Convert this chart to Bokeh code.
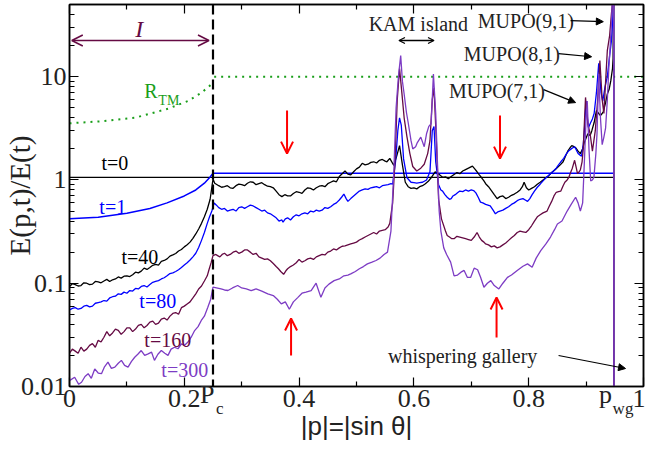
from bokeh.plotting import figure
from bokeh.models import (Range1d, FixedTicker, LinearAxis, LogAxis, Span, Label,
                          Arrow, OpenHead, NormalHead, CustomJSTickFormatter)
from bokeh.embed import file_html
from bokeh.resources import INLINE

# ---------------- data ----------------
t0_x = [0.0, 0.948]
t0_y = [1.06, 1.06]

t1_x = [0.0, 0.05, 0.10, 0.14, 0.17, 0.20, 0.22, 0.235, 0.245, 0.25, 0.948]
t1_y = [0.42, 0.435, 0.475, 0.53, 0.60, 0.70, 0.80, 0.93, 1.07, 1.16, 1.16]

# (p, E(p,t)/E(t)) pairs per time
t40_pts = [
    (0.000, 0.093), (0.005, 0.099), (0.010, 0.097), (0.015, 0.094), (0.020, 0.095),
    (0.025, 0.101), (0.030, 0.100), (0.035, 0.097), (0.040, 0.098), (0.045, 0.104),
    (0.050, 0.103), (0.055, 0.101), (0.060, 0.105), (0.065, 0.109), (0.070, 0.104),
    (0.075, 0.108), (0.080, 0.110), (0.085, 0.115), (0.090, 0.112), (0.095, 0.117),
    (0.100, 0.118), (0.105, 0.116), (0.110, 0.121), (0.115, 0.128), (0.120, 0.126),
    (0.125, 0.131), (0.130, 0.140), (0.135, 0.136), (0.140, 0.142), (0.145, 0.149),
    (0.150, 0.152), (0.155, 0.150), (0.160, 0.163), (0.165, 0.166), (0.170, 0.172),
    (0.175, 0.183), (0.180, 0.188), (0.185, 0.194), (0.190, 0.205), (0.195, 0.212),
    (0.200, 0.225), (0.205, 0.236), (0.210, 0.250), (0.215, 0.272), (0.220, 0.300),
    (0.225, 0.335), (0.230, 0.380), (0.235, 0.440), (0.240, 0.520), (0.245, 0.650),
    (0.250, 1.02), (0.253, 0.93), (0.260, 0.88), (0.265, 0.85), (0.270, 0.86),
    (0.275, 0.88), (0.280, 0.84), (0.285, 0.83), (0.290, 0.88), (0.295, 0.91),
    (0.300, 0.90), (0.305, 0.88), (0.310, 0.93), (0.315, 0.96), (0.320, 0.95),
    (0.325, 0.90), (0.330, 0.92), (0.335, 0.94), (0.340, 0.90), (0.345, 0.87),
    (0.350, 0.86), (0.355, 0.84), (0.360, 0.78), (0.365, 0.72), (0.370, 0.69),
    (0.375, 0.72), (0.380, 0.70), (0.385, 0.70), (0.390, 0.74), (0.395, 0.77),
    (0.400, 0.76), (0.405, 0.74), (0.410, 0.80), (0.415, 0.84), (0.420, 0.83),
    (0.425, 0.80), (0.430, 0.84), (0.435, 0.87), (0.440, 0.88), (0.445, 0.86),
    (0.450, 0.92), (0.455, 0.95), (0.460, 0.98), (0.465, 0.96), (0.470, 1.08),
    (0.475, 1.15), (0.480, 1.22), (0.485, 1.14), (0.490, 1.12), (0.495, 1.20),
    (0.500, 1.28), (0.505, 1.33), (0.510, 1.45), (0.515, 1.40), (0.520, 1.42),
    (0.525, 1.48), (0.530, 1.50), (0.535, 1.46), (0.540, 1.55), (0.545, 1.58),
    (0.550, 1.52), (0.553, 1.50), (0.558, 1.62), (0.565, 1.38), (0.570, 1.70),
    (0.575, 2.15), (0.580, 1.40), (0.585, 0.95), (0.590, 0.86), (0.595, 0.83),
    (0.600, 0.84), (0.605, 0.82), (0.610, 0.86), (0.615, 0.88), (0.620, 0.92),
    (0.625, 0.97), (0.630, 1.05), (0.637, 1.20), (0.645, 1.12), (0.650, 1.06),
    (0.655, 1.07), (0.660, 1.03), (0.665, 1.08), (0.670, 1.13), (0.675, 1.18),
    (0.680, 1.15), (0.685, 1.22), (0.690, 1.26), (0.695, 1.30), (0.702, 1.36),
    (0.706, 1.28), (0.710, 1.20), (0.714, 1.12), (0.718, 1.05), (0.722, 0.98),
    (0.725, 0.92), (0.730, 0.86), (0.735, 0.79), (0.740, 0.72), (0.745, 0.66),
    (0.750, 0.69), (0.755, 0.70), (0.760, 0.66), (0.765, 0.68), (0.770, 0.71),
    (0.775, 0.73), (0.780, 0.76), (0.785, 0.80), (0.789, 0.86), (0.792, 0.95),
    (0.796, 0.84), (0.800, 0.80), (0.805, 0.83), (0.810, 0.86), (0.815, 0.91),
    (0.820, 0.95), (0.825, 1.00), (0.830, 1.05), (0.835, 1.10), (0.840, 1.18),
    (0.845, 1.24), (0.850, 1.32), (0.855, 1.40), (0.860, 1.50), (0.864, 1.70),
    (0.868, 1.90), (0.872, 2.05), (0.875, 2.15), (0.879, 2.10), (0.882, 2.05),
    (0.886, 1.90), (0.890, 1.80), (0.894, 2.00), (0.897, 2.30), (0.900, 2.55),
    (0.903, 2.80), (0.907, 2.70), (0.910, 3.00), (0.914, 3.60), (0.918, 4.70),
    (0.922, 4.40), (0.925, 4.20), (0.928, 4.40), (0.930, 4.60), (0.934, 5.60),
    (0.937, 6.80), (0.940, 7.50), (0.943, 9.10), (0.946, 12.0), (0.947, 15.0),
    (0.948, 200.0), (0.9481, 1e-4)]

t80_pts = [
    (0.000, 0.055), (0.005, 0.057), (0.010, 0.058), (0.015, 0.056), (0.020, 0.057),
    (0.025, 0.060), (0.030, 0.061), (0.035, 0.059), (0.040, 0.060), (0.045, 0.064),
    (0.050, 0.065), (0.055, 0.066), (0.060, 0.068), (0.065, 0.067), (0.070, 0.072),
    (0.075, 0.074), (0.080, 0.075), (0.085, 0.079), (0.090, 0.078), (0.095, 0.082),
    (0.100, 0.080), (0.105, 0.085), (0.110, 0.084), (0.115, 0.089), (0.120, 0.088),
    (0.125, 0.093), (0.130, 0.095), (0.135, 0.092), (0.140, 0.097), (0.145, 0.102),
    (0.150, 0.104), (0.155, 0.106), (0.160, 0.110), (0.165, 0.113), (0.170, 0.118),
    (0.175, 0.124), (0.180, 0.126), (0.185, 0.130), (0.190, 0.135), (0.195, 0.142),
    (0.200, 0.150), (0.205, 0.158), (0.210, 0.168), (0.215, 0.180), (0.220, 0.195),
    (0.225, 0.222), (0.230, 0.260), (0.235, 0.310), (0.240, 0.380), (0.244, 0.440),
    (0.248, 0.500), (0.252, 0.600), (0.256, 0.57), (0.260, 0.54), (0.265, 0.52),
    (0.270, 0.53), (0.275, 0.50), (0.280, 0.51), (0.285, 0.52), (0.290, 0.50),
    (0.295, 0.54), (0.300, 0.55), (0.305, 0.53), (0.310, 0.55), (0.315, 0.57),
    (0.320, 0.56), (0.325, 0.54), (0.330, 0.52), (0.335, 0.50), (0.340, 0.51),
    (0.345, 0.48), (0.350, 0.47), (0.355, 0.45), (0.360, 0.43), (0.365, 0.40),
    (0.370, 0.41), (0.372, 0.39), (0.376, 0.42), (0.380, 0.43), (0.385, 0.41),
    (0.390, 0.44), (0.395, 0.46), (0.400, 0.45), (0.405, 0.47), (0.410, 0.48),
    (0.415, 0.47), (0.420, 0.50), (0.425, 0.49), (0.430, 0.51), (0.435, 0.50),
    (0.440, 0.51), (0.445, 0.54), (0.450, 0.53), (0.455, 0.55), (0.460, 0.58),
    (0.465, 0.60), (0.470, 0.64), (0.474, 0.68), (0.478, 0.73), (0.482, 0.66),
    (0.485, 0.62), (0.490, 0.66), (0.495, 0.70), (0.500, 0.74), (0.505, 0.78),
    (0.510, 0.80), (0.515, 0.82), (0.520, 0.81), (0.525, 0.84), (0.530, 0.85),
    (0.535, 0.86), (0.540, 0.84), (0.545, 0.88), (0.550, 0.89), (0.555, 0.90),
    (0.560, 0.92), (0.563, 0.91), (0.568, 1.50), (0.572, 3.00), (0.575, 4.00),
    (0.578, 3.40), (0.582, 1.60), (0.588, 1.05), (0.595, 0.95), (0.600, 0.94),
    (0.605, 0.93), (0.610, 0.94), (0.615, 0.95), (0.622, 1.00), (0.628, 1.20),
    (0.632, 3.00), (0.635, 3.30), (0.638, 1.50), (0.643, 0.90), (0.647, 0.80),
    (0.650, 0.78), (0.654, 0.72), (0.658, 0.68), (0.662, 0.65), (0.665, 0.66),
    (0.668, 0.70), (0.672, 0.72), (0.676, 0.75), (0.680, 0.78), (0.685, 0.77),
    (0.690, 0.80), (0.695, 0.78), (0.700, 0.80), (0.704, 0.79), (0.708, 0.75),
    (0.712, 0.68), (0.716, 0.61), (0.720, 0.60), (0.725, 0.58), (0.729, 0.57),
    (0.733, 0.56), (0.738, 0.51), (0.742, 0.47), (0.746, 0.49), (0.750, 0.50),
    (0.755, 0.51), (0.760, 0.53), (0.765, 0.55), (0.770, 0.58), (0.775, 0.60),
    (0.780, 0.63), (0.785, 0.65), (0.790, 0.66), (0.794, 0.64), (0.798, 0.62),
    (0.802, 0.66), (0.806, 0.72), (0.810, 0.78), (0.815, 0.85), (0.820, 0.91),
    (0.825, 0.98), (0.830, 1.05), (0.838, 1.15), (0.843, 1.22), (0.848, 1.30),
    (0.852, 1.40), (0.856, 1.50), (0.861, 1.62), (0.866, 1.80), (0.870, 1.92),
    (0.874, 2.00), (0.877, 2.05), (0.880, 2.10), (0.883, 1.95), (0.886, 1.80),
    (0.889, 1.75), (0.892, 1.70), (0.895, 2.20), (0.897, 3.00), (0.900, 5.80),
    (0.902, 4.20), (0.904, 3.20), (0.908, 3.60), (0.911, 3.90), (0.914, 4.40),
    (0.918, 7.00), (0.922, 13.5), (0.926, 7.0), (0.929, 5.8), (0.933, 8.0),
    (0.937, 10.0), (0.941, 16.0), (0.944, 22.0), (0.947, 40.0), (0.948, 200.0),
    (0.9482, 1e-4)]

t160_pts = [
    (0.000, 0.021), (0.005, 0.023), (0.010, 0.022), (0.015, 0.021), (0.020, 0.024),
    (0.025, 0.022), (0.030, 0.023), (0.035, 0.025), (0.040, 0.026), (0.045, 0.024),
    (0.050, 0.028), (0.055, 0.027), (0.060, 0.030), (0.065, 0.034), (0.070, 0.031),
    (0.075, 0.033), (0.080, 0.036), (0.085, 0.035), (0.090, 0.032), (0.095, 0.034),
    (0.100, 0.037), (0.105, 0.037), (0.110, 0.034), (0.115, 0.036), (0.120, 0.039),
    (0.125, 0.040), (0.130, 0.037), (0.135, 0.039), (0.140, 0.042), (0.145, 0.043),
    (0.150, 0.040), (0.155, 0.041), (0.160, 0.045), (0.165, 0.046), (0.170, 0.044),
    (0.175, 0.048), (0.180, 0.051), (0.185, 0.052), (0.190, 0.050), (0.195, 0.058),
    (0.200, 0.060), (0.205, 0.063), (0.210, 0.066), (0.215, 0.072), (0.220, 0.079),
    (0.225, 0.088), (0.230, 0.094), (0.235, 0.105), (0.240, 0.118), (0.243, 0.135),
    (0.247, 0.160), (0.250, 0.185), (0.255, 0.19), (0.258, 0.185), (0.262, 0.18),
    (0.266, 0.19), (0.270, 0.195), (0.275, 0.185), (0.280, 0.19), (0.285, 0.20),
    (0.290, 0.205), (0.295, 0.195), (0.300, 0.20), (0.305, 0.21), (0.310, 0.21),
    (0.315, 0.20), (0.320, 0.19), (0.325, 0.195), (0.330, 0.18), (0.335, 0.175),
    (0.340, 0.17), (0.345, 0.172), (0.350, 0.165), (0.355, 0.155), (0.360, 0.145),
    (0.364, 0.138), (0.368, 0.130), (0.373, 0.122), (0.377, 0.132), (0.380, 0.138),
    (0.385, 0.145), (0.390, 0.15), (0.395, 0.158), (0.400, 0.17), (0.405, 0.16),
    (0.410, 0.165), (0.415, 0.172), (0.420, 0.175), (0.425, 0.17), (0.430, 0.18),
    (0.435, 0.185), (0.440, 0.19), (0.445, 0.188), (0.450, 0.20), (0.455, 0.205),
    (0.460, 0.215), (0.465, 0.21), (0.470, 0.22), (0.475, 0.228), (0.480, 0.23),
    (0.485, 0.235), (0.490, 0.24), (0.495, 0.245), (0.500, 0.25), (0.505, 0.262),
    (0.510, 0.27), (0.515, 0.28), (0.520, 0.29), (0.525, 0.30), (0.530, 0.31),
    (0.535, 0.30), (0.540, 0.32), (0.545, 0.325), (0.550, 0.33), (0.555, 0.35),
    (0.558, 0.38), (0.563, 0.60), (0.567, 1.50), (0.571, 6.0), (0.575, 12.0),
    (0.579, 7.0), (0.583, 4.0), (0.588, 2.6), (0.593, 1.8), (0.598, 1.35),
    (0.605, 1.22), (0.612, 1.30), (0.618, 1.42), (0.624, 1.80), (0.628, 2.40),
    (0.632, 6.0), (0.635, 7.8), (0.639, 2.5), (0.643, 0.65), (0.648, 0.42),
    (0.655, 0.32), (0.658, 0.29), (0.662, 0.28), (0.666, 0.27), (0.670, 0.27),
    (0.675, 0.285), (0.680, 0.28), (0.685, 0.275), (0.690, 0.27), (0.695, 0.265),
    (0.700, 0.26), (0.705, 0.28), (0.710, 0.31), (0.714, 0.28), (0.718, 0.26),
    (0.722, 0.25), (0.725, 0.24), (0.730, 0.235), (0.735, 0.225), (0.740, 0.23),
    (0.745, 0.22), (0.750, 0.225), (0.755, 0.235), (0.760, 0.245), (0.765, 0.26),
    (0.770, 0.275), (0.775, 0.29), (0.780, 0.31), (0.785, 0.32), (0.790, 0.315),
    (0.795, 0.31), (0.800, 0.33), (0.805, 0.36), (0.810, 0.40), (0.815, 0.44),
    (0.820, 0.46), (0.825, 0.48), (0.832, 0.50), (0.836, 0.56), (0.840, 0.62),
    (0.844, 0.70), (0.848, 0.76), (0.852, 0.77), (0.856, 0.78), (0.860, 0.88),
    (0.863, 0.95), (0.867, 1.00), (0.870, 1.06), (0.873, 1.18), (0.876, 1.30),
    (0.880, 1.55), (0.883, 1.30), (0.885, 1.15), (0.888, 1.20), (0.890, 1.25),
    (0.893, 1.50), (0.895, 2.0), (0.899, 6.3), (0.903, 3.5), (0.907, 2.8),
    (0.911, 1.9), (0.916, 3.0), (0.920, 5.8), (0.924, 14.3), (0.928, 6.0),
    (0.931, 4.4), (0.934, 9.0), (0.937, 18.0), (0.941, 25.0), (0.944, 40.0),
    (0.947, 60.0), (0.948, 200.0), (0.9484, 1e-4)]

t300_x = [0.000, 0.009, 0.016, 0.021, 0.027, 0.0325, 0.038, 0.044, 0.050, 0.0557,
          0.061, 0.067, 0.073, 0.079, 0.085, 0.0904, 0.096, 0.102, 0.108, 0.1136,
          0.119, 0.125, 0.131, 0.137, 0.143, 0.148, 0.154, 0.160, 0.166, 0.1716,
          0.177, 0.183, 0.189, 0.195, 0.200, 0.206, 0.212, 0.218, 0.224, 0.2296,
          0.235, 0.241, 0.246, 0.250, 0.256, 0.264, 0.270, 0.276, 0.284, 0.293,
          0.300, 0.308, 0.3165, 0.325, 0.335, 0.3455, 0.355, 0.362, 0.369, 0.376,
          0.383, 0.390, 0.398, 0.405, 0.412, 0.421, 0.4296, 0.438, 0.445, 0.452,
          0.461, 0.470, 0.478, 0.485, 0.490, 0.498, 0.505, 0.512, 0.519, 0.527,
          0.534, 0.541, 0.548, 0.554, 0.560, 0.565, 0.569, 0.573, 0.577, 0.580,
          0.583, 0.587, 0.590, 0.595, 0.598, 0.603, 0.606, 0.612, 0.618, 0.622,
          0.626, 0.630, 0.634, 0.638, 0.641, 0.644, 0.647, 0.652, 0.657, 0.664,
          0.670, 0.676, 0.682, 0.6875, 0.693, 0.699, 0.705, 0.711, 0.716, 0.722,
          0.728, 0.734, 0.740, 0.748, 0.755, 0.763, 0.770, 0.780, 0.790, 0.798,
          0.806, 0.813, 0.821, 0.830, 0.838, 0.845, 0.850, 0.858, 0.867, 0.874,
          0.8817, 0.886, 0.890, 0.894, 0.897, 0.900, 0.902, 0.905, 0.908, 0.911,
          0.9136, 0.917, 0.919, 0.922, 0.925, 0.928, 0.931, 0.934, 0.937, 0.9397,
          0.942, 0.944, 0.946, 0.948, 0.9486]
t300_y = [0.0114, 0.0123, 0.0105, 0.0110, 0.0125, 0.0133, 0.0120, 0.0148, 0.0135, 0.0133,
          0.0155, 0.0172, 0.0150, 0.0154, 0.0168, 0.0179, 0.0160, 0.0154, 0.0175, 0.0192,
          0.0205, 0.0223, 0.0200, 0.0207, 0.0215, 0.0179, 0.0205, 0.0223, 0.0210, 0.0200,
          0.0230, 0.0240, 0.0232, 0.0259, 0.0250, 0.0268, 0.0300, 0.0348, 0.0380, 0.0436,
          0.0480, 0.0585, 0.070, 0.0915, 0.090, 0.088, 0.086, 0.085, 0.090, 0.095,
          0.090, 0.088, 0.085, 0.088, 0.084, 0.079, 0.076, 0.070, 0.063, 0.066,
          0.056, 0.066, 0.073, 0.080, 0.082, 0.085, 0.100, 0.073, 0.090, 0.098,
          0.106, 0.110, 0.118, 0.120, 0.123, 0.130, 0.138, 0.145, 0.154, 0.160,
          0.166, 0.175, 0.190, 0.200, 0.32, 1.20, 5.0, 10.0, 16.0, 9.0,
          6.8, 4.5, 3.6, 2.4, 2.0, 2.1, 2.3, 2.6, 2.1, 2.8,
          3.3, 3.5, 10.6, 4.4, 1.5, 0.50, 0.32, 0.22, 0.19, 0.16,
          0.118, 0.12, 0.128, 0.133, 0.114, 0.114, 0.14, 0.135, 0.115, 0.0915,
          0.100, 0.106, 0.095, 0.088, 0.100, 0.114, 0.120, 0.133, 0.146, 0.154,
          0.143, 0.175, 0.207, 0.240, 0.280, 0.330, 0.375, 0.40, 0.50, 0.58,
          0.68, 0.60, 0.50, 0.60, 1.5, 4.0, 5.8, 2.0, 0.98, 1.00,
          1.06, 1.8, 2.8, 10.6, 4.0, 2.2, 2.6, 3.2, 6.0, 12.4,
          20.0, 32.0, 60.0, 300.0, 1e-4]

rtm_left_x = [0.0, 0.056, 0.114, 0.172, 0.206, 0.230, 0.248]
rtm_left_y = [3.54, 3.7, 4.0, 4.9, 5.8, 7.0, 8.5]
rtm_right_x = [0.252, 1.0]
rtm_right_y = [10.0, 10.0]

p_c = 0.25
p_wg = 0.948

x_ticks = [0.0, 0.2, 0.4, 0.6, 0.8, 1.0]
x_tick_labels = ["0", "0.2", "0.4", "0.6", "0.8", "1"]
x_minor = [0.1, 0.3, 0.5, 0.7, 0.9]
y_ticks = [0.01, 0.1, 1.0, 10.0]
y_tick_labels = ["0.01", "0.1", "1", "10"]
y_minor = [0.02, 0.03, 0.04, 0.05, 0.06, 0.07, 0.08, 0.09,
           0.2, 0.3, 0.4, 0.5, 0.6, 0.7, 0.8, 0.9,
           2, 3, 4, 5, 6, 7, 8, 9, 20, 30, 40]
# special x-axis names (main letter and subscript)
special_main_pos = [0.240, 0.934]
special_main_text = ["P", "p"]
special_sub_pos = [0.2617, 0.9643]
special_sub_text = ["c", "wg"]

# ---------------- colours / fonts ----------------
BLACK = "black"
BLUE = "#0000ff"
MAROON = "#650a43"
PURPLE = "#7d3cc4"
GREEN = "#1a9e1a"
RED = "#ff0000"
TXT = "#222222"
SERIF = "Liberation Serif"
SANS = "Liberation Sans"

p = figure(width=645, height=452, y_axis_type="log",
           x_range=Range1d(0, 1), y_range=Range1d(0.01, 50),
           output_backend="svg", toolbar_location=None,
           min_border_left=10, min_border_right=2, min_border_top=4,
           min_border_bottom=66)
p.grid.visible = False
p.outline_line_color = "black"
p.outline_line_width = 1.5
p.background_fill_color = "white"

xt = FixedTicker(ticks=x_ticks, minor_ticks=x_minor)
yt = FixedTicker(ticks=y_ticks, minor_ticks=y_minor)


def style_axis(ax):
    ax.major_tick_in = 9
    ax.major_tick_out = 0
    ax.minor_tick_in = 5
    ax.minor_tick_out = 0
    ax.axis_line_width = 1.5
    ax.major_tick_line_width = 1.2
    ax.minor_tick_line_width = 1.2
    ax.major_label_text_font = SERIF
    ax.major_label_text_font_size = "26px"
    ax.major_label_text_color = TXT


xa = p.xaxis[0]
xa.ticker = xt
xa.major_label_overrides = dict(zip(x_ticks, x_tick_labels))
style_axis(xa)
xa.major_label_standoff = 3

ya = p.yaxis[0]
ya.ticker = yt
ya.major_label_overrides = dict(zip(y_ticks, y_tick_labels))
style_axis(ya)
ya.major_label_standoff = 3
ya.axis_label = "E(p,t)/E(t)"
ya.axis_label_text_font = SERIF
ya.axis_label_text_font_size = "29px"
ya.axis_label_text_font_style = "normal"
ya.axis_label_text_color = TXT
ya.axis_label_standoff = -18

blank = CustomJSTickFormatter(code="return ''")

# mirrored ticks on top and right
top = LinearAxis(ticker=xt, formatter=blank)
style_axis(top)
top.major_label_text_font_size = "4px"
top.major_label_standoff = 0
p.add_layout(top, "above")

right = LogAxis(ticker=yt, formatter=blank)
style_axis(right)
right.major_label_text_font_size = "4px"
right.major_label_standoff = 0
p.add_layout(right, "right")


def name_axis(pos, texts, size, standoff):
    ax = LinearAxis(ticker=FixedTicker(ticks=pos, minor_ticks=[]))
    ax.major_label_overrides = dict(zip(pos, texts))
    ax.axis_line_color = None
    ax.major_tick_line_color = None
    ax.minor_tick_line_color = None
    ax.major_tick_in = 0
    ax.major_tick_out = 0
    ax.major_label_text_font = SERIF
    ax.major_label_text_font_size = size
    ax.major_label_text_color = TXT
    ax.major_label_standoff = standoff
    p.add_layout(ax, "below")
    return ax


name_axis(special_main_pos, special_main_text, "26px", -30)
sub_ax = name_axis(special_sub_pos, special_sub_text, "17px", -13)
sub_ax.axis_label = "|p|=|sin θ|"
sub_ax.axis_label_text_font = SANS
sub_ax.axis_label_text_font_size = "26px"
sub_ax.axis_label_text_font_style = "normal"
sub_ax.axis_label_text_color = TXT
sub_ax.axis_label_standoff = -10

# reference lines
p.line(rtm_left_x, rtm_left_y, color=GREEN, line_width=2, line_dash="2 5")
p.line(rtm_right_x, rtm_right_y, color=GREEN, line_width=2, line_dash="2 5")
p.add_layout(Span(location=p_c, dimension="height", line_color="black",
                  line_width=2.2, line_dash="10 5"))

# curves
p.line(t0_x, t0_y, color=BLACK, line_width=1.3)
p.line(t1_x, t1_y, color=BLUE, line_width=1.5)
for pts, col in [(t40_pts, BLACK), (t80_pts, BLUE), (t160_pts, MAROON)]:
    p.line([q[0] for q in pts], [q[1] for q in pts], color=col, line_width=1.3)
p.line(t300_x, t300_y, color=PURPLE, line_width=1.3)


def lab(x, y, text, color=TXT, size="20px", font=SERIF, style="normal",
        align="left", baseline="middle"):
    p.add_layout(Label(x=x, y=y, text=text, text_color=color, text_font=font,
                       text_font_size=size, text_font_style=style,
                       text_align=align, text_baseline=baseline))


# curve labels
lab(0.0557, 1.47, "t=0", BLACK)
lab(0.052, 0.553, "t=1", BLUE)
lab(0.0904, 0.1775, "t=40", BLACK)
lab(0.1217, 0.068, "t=80", BLUE)
lab(0.1304, 0.0279, "t=160", MAROON)
lab(0.16, 0.0146, "t=300", PURPLE)

# R_TM
lab(0.1304, 7.33, "R", GREEN, "20px")
lab(0.1548, 5.87, "TM", GREEN, "14px")

# interval I
lab(0.1217, 29.2, "I", MAROON, "24px", style="italic", align="center")
p.add_layout(Arrow(start=OpenHead(size=11, line_color=MAROON, line_width=1.5),
                   end=OpenHead(size=11, line_color=MAROON, line_width=1.5),
                   x_start=0.004, y_start=22.4, x_end=0.243, y_end=22.4,
                   line_color=MAROON, line_width=1.5))

# KAM island
lab(0.6078, 32.7, "KAM island", align="center")
p.add_layout(Arrow(start=OpenHead(size=6, line_color=BLACK, line_width=1.3),
                   end=OpenHead(size=6, line_color=BLACK, line_width=1.3),
                   x_start=0.574, y_start=22.4, x_end=0.635, y_end=22.4,
                   line_color=BLACK, line_width=1.3))

# MUPO labels with pointers
for (lx, ly, txt, ax0, ay0, ax1, ay1) in [
        (0.7113, 34.9, "MUPO(9,1)", 0.873, 34.9, 0.930, 34.1),
        (0.687, 16.7, "MUPO(8,1)", 0.852, 16.7, 0.9096, 15.6),
        (0.661, 7.33, "MUPO(7,1)", 0.826, 7.5, 0.8817, 5.61),
        (0.5548, 0.01995, "whispering gallery", 0.852, 0.01995, 0.9687, 0.01493)]:
    lab(lx, ly, txt)
    p.add_layout(Arrow(end=NormalHead(size=7, fill_color=BLACK, line_color=BLACK),
                       x_start=ax0, y_start=ay0, x_end=ax1, y_end=ay1,
                       line_color=BLACK, line_width=1.2))

# red arrows
for (x0, y0, x1, y1) in [(0.379, 4.70, 0.379, 1.80), (0.75, 4.2, 0.75, 1.61),
                         (0.386, 0.0200, 0.386, 0.0455), (0.744, 0.0298, 0.744, 0.0728)]:
    p.add_layout(Arrow(end=OpenHead(size=12, line_color=RED, line_width=2),
                       x_start=x0, y_start=y0, x_end=x1, y_end=y1,
                       line_color=RED, line_width=2))

open("out.html", "w").write(file_html(p, INLINE))
